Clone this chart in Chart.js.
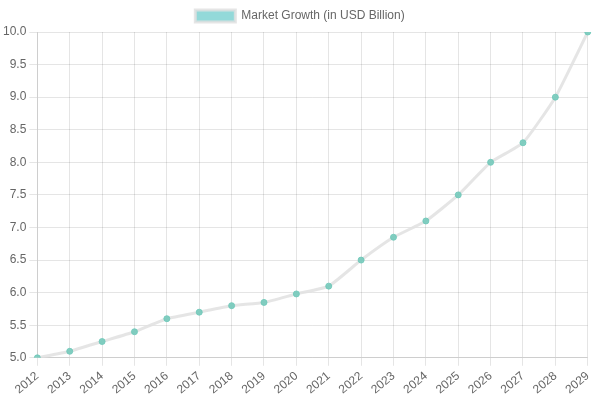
<!DOCTYPE html>
<html>
<head>
<meta charset="utf-8">
<script src="https://cdn.jsdelivr.net/npm/chart.js@4"></script>
<style>
html,body{margin:0;padding:0;background:#fff;}
#wrap{width:600px;height:400px;}
</style>
</head>
<body>
<div id="wrap"><canvas id="c" width="600" height="400"></canvas></div>
<script>
const years = ['2012','2013','2014','2015','2016','2017','2018','2019','2020','2021','2022','2023','2024','2025','2026','2027','2028','2029'];
const marketGrowth = [5.0, 5.1, 5.25, 5.4, 5.6, 5.7, 5.8, 5.85, 5.98, 6.1, 6.5, 6.85, 7.1, 7.5, 8.0, 8.3, 9.0, 10.0];
const seriesLabel = 'Market Growth (in USD Billion)';

Chart.defaults.font.family = '"Liberation Sans", Arial, sans-serif';
Chart.defaults.font.size = 12;
Chart.defaults.color = '#666';

new Chart(document.getElementById('c'), {
  type: 'line',
  data: {
    labels: years,
    datasets: [{
      label: seriesLabel,
      data: marketGrowth,
      borderColor: 'rgba(225,225,225,0.85)',
      backgroundColor: 'rgba(75,192,192,0.6)',
      borderWidth: 3,
      tension: 0.15,
      pointRadius: 3,
      pointBackgroundColor: 'rgba(110,200,185,0.85)',
      pointBorderColor: 'rgba(110,200,185,0.85)',
      pointBorderWidth: 1,
      fill: false
    }]
  },
  options: {
    responsive: false,
    animation: false,
    maintainAspectRatio: false,
    plugins: {
      legend: {
        display: true,
        labels: { boxWidth: 40, color: '#666' }
      },
      tooltip: { enabled: false }
    },
    scales: {
      x: {
        ticks: { autoSkip: false, minRotation: 40, maxRotation: 40 },
        grid: { color: 'rgba(0,0,0,0.1)' }
      },
      y: {
        min: 5.0,
        max: 10.0,
        ticks: { stepSize: 0.5, callback: v => Number(v).toFixed(1) },
        grid: { color: 'rgba(0,0,0,0.1)' }
      }
    }
  }
});
</script>
</body>
</html>
